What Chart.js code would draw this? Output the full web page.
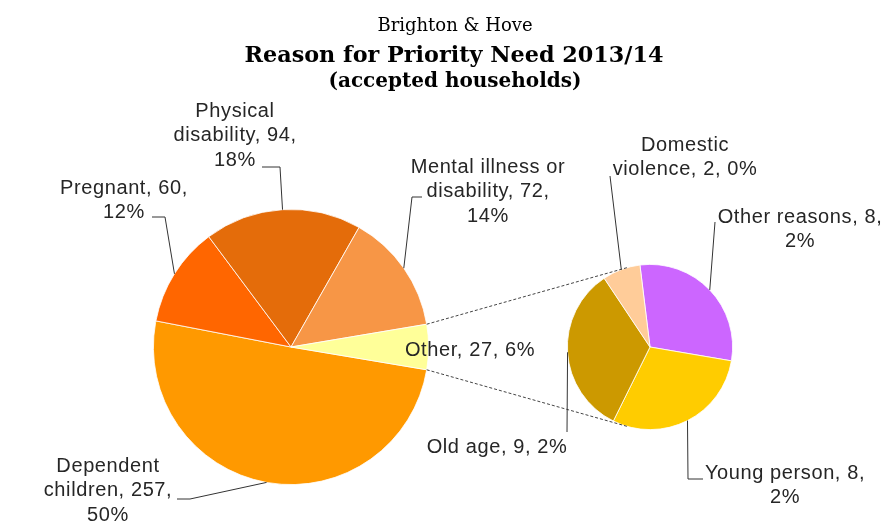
<!DOCTYPE html>
<html>
<head>
<meta charset="utf-8">
<script src="https://cdn.jsdelivr.net/npm/chart.js@4.4.1/dist/chart.umd.min.js"></script>
<style>
  html, body { margin: 0; padding: 0; background: #fff; }
  #wrap { position: relative; width: 883px; height: 522px; }
  #wrap canvas { position: absolute; left: 0; top: 0; }
</style>
</head>
<body>
<div id="wrap">
  <canvas id="mainPie" width="883" height="522"></canvas>
  <canvas id="subPie" width="883" height="522"></canvas>
</div>
<script>
  // Data
  const titleLines = ["Brighton & Hove", "Reason for Priority Need 2013/14", "(accepted households)"];

  const mainLabels = ["Dependent children", "Pregnant", "Physical disability", "Mental illness or disability", "Other"];
  const mainValues = [257, 60, 94, 72, 27];
  const mainPercents = [50, 12, 18, 14, 6];

  const subLabels = ["Other reasons", "Young person", "Old age", "Domestic violence"];
  const subValues = [8, 8, 9, 2];
  const subPercents = [2, 2, 2, 0];

  // Styles
  const mainColors = ["#FF9900", "#FF6600", "#E46C0A", "#F79646", "#FFFF99"];
  const subColors = ["#CC66FF", "#FFCC00", "#CC9900", "#FFCC99"];
  const labelFont = "20px 'Liberation Sans', Arial, sans-serif";
  const textColor = "#262626";
  const lineColor = "#333333";

  // Label boxes: centre x, first line centre y, wrap width, leader path (after the arc point)
  const mainLabelLayout = [
    { cx: 108, cy: 466, w: 130, path: [[190, 499], [177, 499]] },
    { cx: 124, cy: 188, w: 130, path: [[165, 217], [152, 217]] },
    { cx: 235, cy: 111, w: 130, path: [[280, 167], [262, 167]] },
    { cx: 488, cy: 167, w: 155, path: [[412, 197], [422, 197]] },
    { cx: 470, cy: 350, w: 200, path: null }
  ];
  const subLabelLayout = [
    { cx: 800, cy: 217, w: 165, path: [[715, 222]] },
    { cx: 785, cy: 473, w: 165, path: [[688, 479], [703, 479]] },
    { cx: 497, cy: 447, w: 200, path: [[567, 432]] },
    { cx: 685, cy: 145, w: 145, path: [[610, 176]] }
  ];

  function wrapText(ctx, text, maxWidth) {
    const words = text.split(" ");
    const lines = [];
    let line = "";
    words.forEach((word) => {
      const test = line ? line + " " + word : word;
      if (line && ctx.measureText(test).width > maxWidth) {
        lines.push(line);
        line = word;
      } else {
        line = test;
      }
    });
    if (line) lines.push(line);
    return lines;
  }

  function midPoint(arc) {
    const mid = (arc.startAngle + arc.endAngle) / 2;
    return [arc.x + Math.cos(mid) * arc.outerRadius, arc.y + Math.sin(mid) * arc.outerRadius];
  }

  function drawLabel(ctx, arc, text, layout) {
    ctx.save();
    ctx.font = labelFont;
    ctx.letterSpacing = "0.6px";
    if (layout.path) {
      const start = midPoint(arc);
      ctx.strokeStyle = lineColor;
      ctx.lineWidth = 1;
      ctx.beginPath();
      ctx.moveTo(start[0], start[1]);
      layout.path.forEach((p) => ctx.lineTo(p[0], p[1]));
      ctx.stroke();
    }
    ctx.fillStyle = textColor;
    ctx.textAlign = "center";
    ctx.textBaseline = "middle";
    const lines = wrapText(ctx, text, layout.w);
    lines.forEach((l, i) => ctx.fillText(l, layout.cx, layout.cy + i * 24.5));
    ctx.restore();
  }

  // Outer tangent from point p to circle (c, r), picking the upper or lower one
  function tangentPoint(p, c, r, upper) {
    const dx = p[0] - c[0];
    const dy = p[1] - c[1];
    const d = Math.sqrt(dx * dx + dy * dy);
    const base = Math.atan2(dy, dx);
    const a = Math.acos(r / d);
    const t1 = [c[0] + r * Math.cos(base + a), c[1] + r * Math.sin(base + a)];
    const t2 = [c[0] + r * Math.cos(base - a), c[1] + r * Math.sin(base - a)];
    if (upper) return t1[1] < t2[1] ? t1 : t2;
    return t1[1] > t2[1] ? t1 : t2;
  }

  const mainTotal = mainValues.reduce((a, b) => a + b, 0);
  const otherIndex = mainValues.length - 1;

  const mainChart = new Chart(document.getElementById("mainPie"), {
    type: "pie",
    data: {
      labels: mainLabels,
      datasets: [{
        data: mainValues,
        backgroundColor: mainColors,
        borderColor: "#ffffff",
        borderWidth: 0.8
      }]
    },
    options: {
      responsive: false,
      animation: false,
      // centre the "Other" slice at 3 o'clock
      rotation: 90 + (mainValues[otherIndex] / mainTotal) * 180,
      layout: { padding: { left: 153, right: 454, top: 209, bottom: 37 } },
      plugins: { legend: { display: false }, tooltip: { enabled: false } }
    }
  });

  const overlayPlugin = {
    id: "overlay",
    afterDraw(chart) {
      const ctx = chart.ctx;
      const mainArcs = mainChart.getDatasetMeta(0).data;
      const subArcs = chart.getDatasetMeta(0).data;

      // Title
      ctx.save();
      ctx.fillStyle = "#000";
      ctx.textAlign = "center";
      ctx.textBaseline = "alphabetic";
      ctx.font = "18px 'DejaVu Serif', serif";
      ctx.fillText(titleLines[0], 455, 31);
      ctx.font = "bold 22.3px 'DejaVu Serif', serif";
      ctx.fillText(titleLines[1], 454, 62);
      ctx.font = "bold 20px 'DejaVu Serif', serif";
      ctx.fillText(titleLines[2], 455, 87);
      ctx.restore();

      // Dashed connectors from the "Other" slice to the secondary pie
      const other = mainArcs[otherIndex];
      const subArc = subArcs[0];
      const c = [subArc.x, subArc.y];
      const r = subArc.outerRadius;
      const pTop = [other.x + Math.cos(other.startAngle) * other.outerRadius, other.y + Math.sin(other.startAngle) * other.outerRadius];
      const pBot = [other.x + Math.cos(other.endAngle) * other.outerRadius, other.y + Math.sin(other.endAngle) * other.outerRadius];
      const tTop = tangentPoint(pTop, c, r, true);
      const tBot = tangentPoint(pBot, c, r, false);
      ctx.save();
      ctx.strokeStyle = "#444";
      ctx.lineWidth = 1;
      ctx.setLineDash([3, 2]);
      ctx.beginPath();
      ctx.moveTo(pTop[0], pTop[1]);
      ctx.lineTo(tTop[0], tTop[1]);
      ctx.moveTo(pBot[0], pBot[1]);
      ctx.lineTo(tBot[0], tBot[1]);
      ctx.stroke();
      ctx.restore();

      // Data labels
      mainLabels.forEach((name, i) => {
        drawLabel(ctx, mainArcs[i], `${name}, ${mainValues[i]}, ${mainPercents[i]}%`, mainLabelLayout[i]);
      });
      subLabels.forEach((name, i) => {
        drawLabel(ctx, subArcs[i], `${name}, ${subValues[i]}, ${subPercents[i]}%`, subLabelLayout[i]);
      });
    }
  };

  const subChart = new Chart(document.getElementById("subPie"), {
    type: "pie",
    data: {
      labels: subLabels,
      datasets: [{
        data: subValues,
        backgroundColor: subColors,
        borderColor: "#ffffff",
        borderWidth: 0.8
      }]
    },
    options: {
      responsive: false,
      animation: false,
      rotation: -7,
      layout: { padding: { left: 567, right: 150, top: 264, bottom: 92 } },
      plugins: { legend: { display: false }, tooltip: { enabled: false } }
    },
    plugins: [overlayPlugin]
  });
</script>
</body>
</html>
